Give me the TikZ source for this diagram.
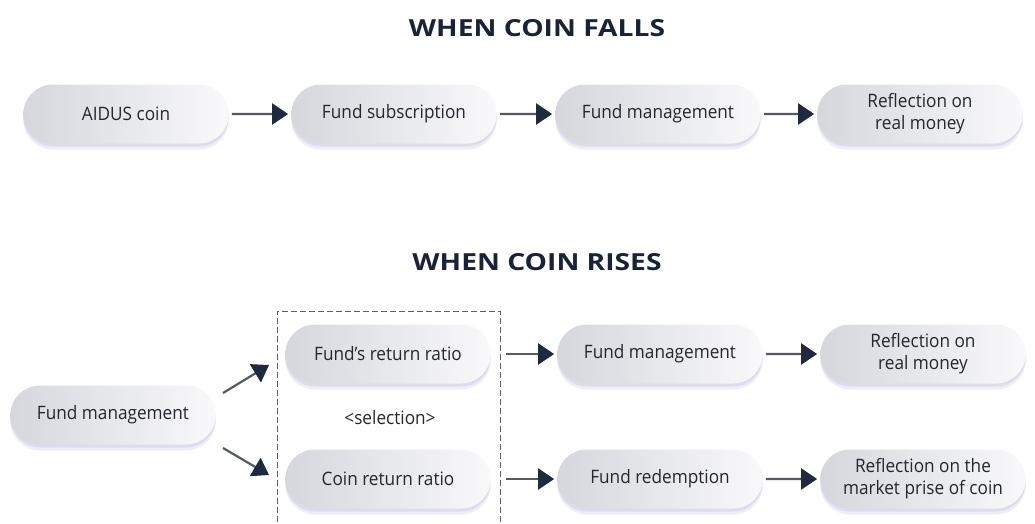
\documentclass[tikz,border=0pt]{standalone}
\usepackage{fontspec}
\setmainfont{Open Sans}
\newfontfamily\bodyfont[FakeStretch=0.93]{Open Sans}
\newfontfamily\titlefont[FakeStretch=1.2]{Open Sans}
\usetikzlibrary{arrows.meta,shapes.misc,shadows}
\definecolor{titlec}{HTML}{18223A}
\definecolor{textc}{HTML}{24272E}
\definecolor{boxl}{HTML}{D5D7DD}
\definecolor{boxr}{HTML}{F9F9FB}
\definecolor{linec}{HTML}{555A63}
\definecolor{headc}{HTML}{1E2A40}
\tikzset{
  pill/.style={rounded rectangle, minimum width=212pt, minimum height=59pt,
    left color=boxl, right color=boxr, draw=none, text=textc,
    font=\bodyfont\fontsize{18.5}{22}\selectfont, align=center,
    general shadow={shadow xshift=0pt, shadow yshift=-6pt, opacity=0.10, fill=gray!70!blue, scale=0.98},
    drop shadow={shadow xshift=0pt, shadow yshift=-3pt, opacity=0.12, fill=gray!70!blue}},
  flow/.style={draw=linec, line width=2.2pt,
    -{Triangle[length=16pt,width=21pt,color=headc]}, shorten <=3pt, shorten >=3pt},
  titletext/.style={font=\titlefont\bfseries\fontsize{23.5}{28}\selectfont, text=titlec},
}
\begin{document}
\begin{tikzpicture}[x=1pt,y=-1pt]
\useasboundingbox (0,0) rectangle (1035,523);
\begin{scope}
\clip (0,0) rectangle (1035,523);
% titles
\node[titletext] (t1) at (537,28) {WHEN COIN FALLS};
\node[titletext] (t2) at (537,262) {WHEN COIN RISES};
% top row
\node[pill] (a1) at (126,114) {AIDUS coin};
\node[pill] (a2) at (394,114) {Fund subscription};
\node[pill] (a3) at (658,114) {Fund management};
\node[pill] (a4) at (920,114) {Reflection on\\real money};
\draw[flow] (a1) -- (a2);
\draw[flow] (a2) -- (a3);
\draw[flow] (a3) -- (a4);
% bottom
\draw[dashed, dash pattern=on 6pt off 3pt, draw=gray!75!black, line width=1pt] (277,540) |- (500,311) -- (500,540);
\node[pill] (b0) at (113,415) {Fund management};
\node[pill] (b1) at (388,354) {Fund’s return ratio};
\node[pill] (b2) at (388,479) {Coin return ratio};
\node[font=\bodyfont\fontsize{18.5}{22}\selectfont, text=textc] (sel) at (390,418) {<selection>};
\node[pill] (b3) at (660,354) {Fund management};
\node[pill] (b4) at (923,354) {Reflection on\\real money};
\node[pill] (b5) at (660,479) {Fund redemption};
\node[pill] (b6) at (923,479) {Reflection on the\\market prise of coin};
\coordinate (u0) at (223,393);
\coordinate (u1) at (269,365);
\coordinate (l0) at (223,448);
\coordinate (l1) at (269,475);
\draw[flow, shorten <=0pt, shorten >=0pt] (u0) -- (u1);
\draw[flow, shorten <=0pt, shorten >=0pt] (l0) -- (l1);
\coordinate (d1) at (506,354);
\coordinate (d2) at (506,479);
\draw[flow, shorten <=0pt] (d1) -- (b3);
\draw[flow, shorten <=0pt] (d2) -- (b5);
\draw[flow] (b3) -- (b4);
\draw[flow] (b5) -- (b6);
\end{scope}
\end{tikzpicture}
\end{document}
